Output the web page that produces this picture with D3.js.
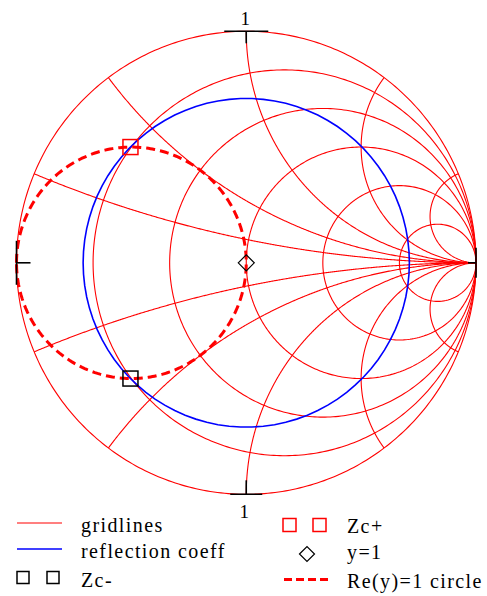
<!DOCTYPE html>
<html>
<head>
<meta charset="utf-8">
<script src="https://cdn.jsdelivr.net/npm/d3@7"></script>
<style>
  body { margin: 0; background: #fff; }
  svg { display: block; }
  .legendText { font-family: "Liberation Serif", "Times New Roman", serif; font-size: 20px; letter-spacing: 1.4px; fill: #000; }
  .axisLabel { font-family: "Liberation Serif", "Times New Roman", serif; font-size: 19px; fill: #000; }
</style>
</head>
<body>
<script>
(function(){

//values (reflection coefficient plane, unit circle = |gamma| 1)
var resistanceValues = [0, 0.2, 0.5, 1, 2, 5];       //constant r circles
var reactanceValues = [0.2, 0.5, 1, 2, 5];           //constant x arcs (drawn for +x and -x)
var reflectionMag = 0.71;                             //|gamma| of the blue circle
var zcPlus = [[-0.504, 0.500]];                       //Zc+ points
var zcMinus = [[-0.504, -0.500]];                     //Zc- points
var yOne = [[0, 0]];                                  //y=1 point
var admittanceG = 1;                                  //Re(y)=1 circle
var axisTickLabels = ["1", "1"];                      //top and bottom labels
var legendLeft = ["gridlines", "reflection coeff", "Zc-"];
var legendRight = ["Zc+", "y=1", "Re(y)=1 circle"];

var width = 487, height = 596;

var svg = d3.select("body")
    .append("svg")
    .attr("width", width)
    .attr("height", height);

//scales for the gamma plane
var x = d3.scaleLinear().domain([-1, 1]).range([16.5, 476]);
var y = d3.scaleLinear().domain([-1, 1]).range([494.3, 31.3]);

var line = d3.line()
    .x(function(d){ return x(d[0]); })
    .y(function(d){ return y(d[1]); });

//gamma = (z-1)/(z+1)
function gamma(r, xi){
    var den = (r + 1) * (r + 1) + xi * xi;
    return [(r * r + xi * xi - 1) / den, (2 * xi) / den];
}

//points of a constant resistance circle
function resistancePoints(r){
    var pts = [[1, 0]];
    for (var i = 1; i < 400; i++){
        var phi = -Math.PI / 2 + Math.PI * i / 400;
        pts.push(gamma(r, Math.tan(phi)));
    }
    pts.push([1, 0]);
    return pts;
}

//points of a constant reactance arc
function reactancePoints(xi){
    var pts = [];
    for (var i = 0; i < 400; i++){
        var phi = (Math.PI / 2) * i / 400;
        pts.push(gamma(Math.tan(phi), xi));
    }
    pts.push([1, 0]);
    return pts;
}

//admittance circle: y = g + jb  ->  gamma = (1-y)/(1+y)
function admittancePoints(g){
    var pts = [];
    for (var i = 0; i <= 400; i++){
        var phi = -Math.PI / 2 + Math.PI * i / 400;
        var p = gamma(g, Math.tan(phi));
        pts.push([-p[0], -p[1]]);
    }
    return pts;
}

var grid = svg.append("g").attr("class", "grid");

resistanceValues.forEach(function(r){
    grid.append("path")
        .attr("d", line(resistancePoints(r)))
        .attr("fill", "none")
        .attr("stroke", "#ff0000")
        .attr("stroke-width", 1.1);
});

reactanceValues.forEach(function(xi){
    [xi, -xi].forEach(function(v){
        grid.append("path")
            .attr("d", line(reactancePoints(v)))
            .attr("fill", "none")
            .attr("stroke", "#ff0000")
            .attr("stroke-width", 1.1);
    });
});

//reflection coefficient circle
var blue = d3.range(0, 361, 4).map(function(a){
    var t = a * Math.PI / 180;
    return [reflectionMag * Math.cos(t), reflectionMag * Math.sin(t)];
});
svg.append("path")
    .attr("d", line(blue))
    .attr("fill", "none")
    .attr("stroke", "#0000ff")
    .attr("stroke-width", 1.6);

//Re(y)=1 circle
svg.append("path")
    .attr("d", line(admittancePoints(admittanceG)))
    .attr("fill", "none")
    .attr("stroke", "#ff0000")
    .attr("stroke-width", 3)
    .attr("stroke-dasharray", "9,5");

//axis ticks at the four ends
var ticks = svg.append("g").attr("stroke", "#000").attr("stroke-width", 1.6);
ticks.append("line").attr("x1", x(0) - 22).attr("x2", x(0) + 22).attr("y1", y(1)).attr("y2", y(1));
ticks.append("line").attr("x1", x(0)).attr("x2", x(0)).attr("y1", y(1)).attr("y2", y(1) + 12);
ticks.append("line").attr("x1", x(0) - 16).attr("x2", x(0) + 16).attr("y1", y(-1)).attr("y2", y(-1));
ticks.append("line").attr("x1", x(0)).attr("x2", x(0)).attr("y1", y(-1)).attr("y2", y(-1) - 14);
ticks.append("line").attr("x1", x(-1)).attr("x2", x(-1)).attr("y1", y(0) - 22).attr("y2", y(0) + 22);
ticks.append("line").attr("x1", x(-1)).attr("x2", x(-1) + 14).attr("y1", y(0)).attr("y2", y(0));
ticks.append("line").attr("x1", x(1)).attr("x2", x(1)).attr("y1", y(0) - 15).attr("y2", y(0) + 15);
ticks.append("line").attr("x1", x(1)).attr("x2", x(1) - 8).attr("y1", y(0)).attr("y2", y(0));

svg.append("text").attr("class", "axisLabel").attr("x", x(0) - 1).attr("y", 25)
    .attr("text-anchor", "middle").text(axisTickLabels[0]);
svg.append("text").attr("class", "axisLabel").attr("x", x(0) - 2).attr("y", 518)
    .attr("text-anchor", "middle").text(axisTickLabels[1]);

//markers
function box(g, cx, cy, s, color){
    g.append("rect")
        .attr("x", cx - s / 2).attr("y", cy - s / 2)
        .attr("width", s).attr("height", s)
        .attr("fill", "none").attr("stroke", color).attr("stroke-width", 1.5);
}
function diamond(g, cx, cy, s){
    g.append("path")
        .attr("d", "M" + (cx - s / 2) + "," + cy + "L" + cx + "," + (cy - s / 2) +
            "L" + (cx + s / 2) + "," + cy + "L" + cx + "," + (cy + s / 2) + "Z")
        .attr("fill", "none").attr("stroke", "#000").attr("stroke-width", 1.2);
}

var marks = svg.append("g");
zcPlus.forEach(function(d){ box(marks, x(d[0]), y(d[1]), 15, "#ff0000"); });
zcMinus.forEach(function(d){ box(marks, x(d[0]), y(d[1]), 15, "#000"); });
yOne.forEach(function(d){ diamond(marks, x(d[0]), y(d[1]), 16); });

//legend
var legend = svg.append("g");
var rowY = [523, 549, 577];
legend.append("line").attr("x1", 17).attr("x2", 62).attr("y1", rowY[0]).attr("y2", rowY[0])
    .attr("stroke", "#ff0000").attr("stroke-width", 1.1);
legend.append("line").attr("x1", 17).attr("x2", 62).attr("y1", rowY[1]).attr("y2", rowY[1])
    .attr("stroke", "#0000ff").attr("stroke-width", 1.6);
box(legend, 23, rowY[2] + 0.5, 12, "#000");
box(legend, 53, rowY[2] + 0.5, 12, "#000");
box(legend, 289.5, 525, 13, "#ff0000");
box(legend, 319.5, 525, 13, "#ff0000");
diamond(legend, 307, 554, 15);
legend.append("line").attr("x1", 284).attr("x2", 330).attr("y1", 579.5).attr("y2", 579.5)
    .attr("stroke", "#ff0000").attr("stroke-width", 3).attr("stroke-dasharray", "8,4");

legendLeft.forEach(function(t, i){
    legend.append("text").attr("class", "legendText")
        .attr("x", 81).attr("y", [531.5, 558, 587][i]).text(t);
});
legendRight.forEach(function(t, i){
    legend.append("text").attr("class", "legendText")
        .attr("x", 347).attr("y", [533, 559, 588][i]).text(t);
});

})();
</script>
</body>
</html>
